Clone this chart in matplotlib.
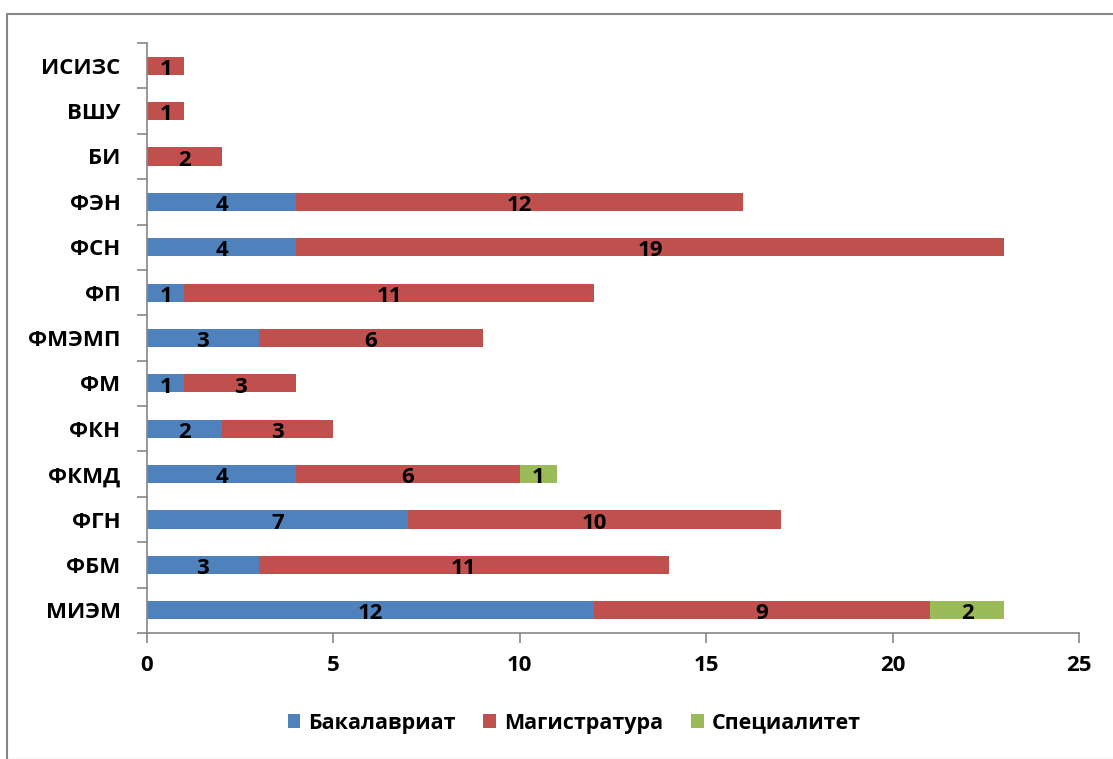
import matplotlib
matplotlib.use("Agg")
import matplotlib.pyplot as plt
import numpy as np
from matplotlib.patches import Rectangle, Patch

plt.rcParams['font.family'] = ['Open Sans', 'DejaVu Sans']
plt.rcParams['font.weight'] = 'bold'

categories = ['МИЭМ', 'ФБМ', 'ФГН', 'ФКМД', 'ФКН', 'ФМ', 'ФМЭМП', 'ФП', 'ФСН', 'ФЭН', 'БИ', 'ВШУ', 'ИСИЗС']
bachelor = [12, 3, 7, 4, 2, 1, 3, 1, 4, 4, 0, 0, 0]
master = [9, 11, 10, 6, 3, 3, 6, 11, 19, 12, 2, 1, 1]
specialist = [2, 0, 0, 1, 0, 0, 0, 0, 0, 0, 0, 0, 0]
series_names = ['Бакалавриат', 'Магистратура', 'Специалитет']
colors = ['#4F81BD', '#C0504D', '#9BBB59']
xticks = [0, 5, 10, 15, 20, 25]

W, H = 1113, 759
fig = plt.figure(figsize=(W / 100, H / 100), dpi=100)
ax = fig.add_axes([147 / W, 1 - 633 / H, (1079 - 147) / W, (633 - 43) / H])

y = np.arange(len(categories))
left = np.zeros(len(categories))
for vals, col, name in zip([bachelor, master, specialist], colors, series_names):
    vals = np.array(vals, dtype=float)
    ax.barh(y, vals, left=left, height=0.4, color=col, linewidth=0, label=name)
    for yi, l, v in zip(y, left, vals):
        if v > 0:
            ax.text(l + v / 2, yi - 0.08, f"{int(v)}", ha='center', va='center',
                    fontsize=16, fontweight='bold', color='black')
    left = left + vals

ax.set_xlim(0, 25)
ax.set_ylim(-0.5, len(categories) - 0.5)
ax.set_xticks(xticks)
ax.set_xticklabels([str(t) for t in xticks], fontsize=16, fontweight='bold')
ax.set_yticks(y)
ax.set_yticklabels(categories, fontsize=16, fontweight='bold')
ax.set_yticks(np.arange(-0.5, len(categories), 1), minor=True)
ax.tick_params(axis='y', which='major', length=0, pad=19)
ax.tick_params(axis='y', which='minor', length=7, width=1.2, color='#868686', direction='out')
ax.tick_params(axis='x', which='major', length=7, width=1.2, color='#868686', direction='out', pad=9)

for s in ['top', 'right']:
    ax.spines[s].set_visible(False)
for s in ['left', 'bottom']:
    ax.spines[s].set_color('#868686')
    ax.spines[s].set_linewidth(1.2)

handles = [Patch(facecolor=c, edgecolor='none') for c in colors]
fig.legend(handles, series_names, loc='center', bbox_to_anchor=(574 / W, 1 - 723 / H),
           ncol=3, frameon=False, handlelength=0.6, handleheight=0.6,
           handletextpad=0.35, columnspacing=1.3, prop={'weight': 'bold', 'size': 15.5})

border = Rectangle((7 / W, 1 - 760 / H), (W + 20) / W, (760 - 14) / H, transform=fig.transFigure,
                   fill=False, edgecolor='#868686', linewidth=1.5, clip_on=False)
fig.patches.append(border)

fig.savefig('out.png', dpi=100, facecolor='white')
